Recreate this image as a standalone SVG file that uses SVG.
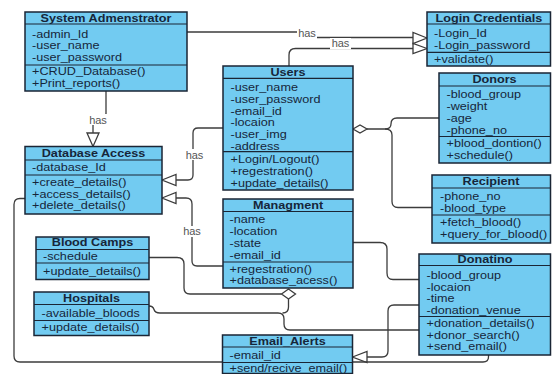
<svg xmlns="http://www.w3.org/2000/svg" width="553" height="374" viewBox="0 0 553 374">
<style>
.box{fill:#72CBF1;stroke:#1a2535;stroke-width:1.5}
.sep{stroke:#1a2535;stroke-width:1.2}
.t{font-family:"Liberation Sans",Arial,sans-serif;font-size:11px;fill:#16263a}
.h{font-weight:bold;text-anchor:middle}
.c{fill:none;stroke:#3c3c3c;stroke-width:1.3}
.tri{fill:#fff;stroke:#3c3c3c;stroke-width:1.3}
.lb{fill:#fff}
.lbl{font-family:"Liberation Sans",Arial,sans-serif;font-size:11px;fill:#555;text-anchor:middle}
</style>
<rect width="553" height="374" fill="#fff"/>
<g id="connectors">
<path class="c" d="M187,32 H299 L315,37.5 H413"/>
<rect class="lb" x="297" y="28" width="20" height="11"/>
<text class="lbl" x="307" y="36.5">has</text>
<polygon class="tri" points="427,38 413,32.5 413,43.5"/>
<path class="c" d="M289,66 V55 Q289,48.5 295.5,48.5 H413"/>
<rect class="lb" x="330" y="38" width="21" height="11.5"/>
<text class="lbl" x="340.5" y="47">has</text>
<polygon class="tri" points="427,48.5 413,43.5 413,53.5"/>
<path class="c" d="M106,91 V114 L93,125 V133"/>
<rect class="lb" x="88" y="114" width="20" height="11"/>
<text class="lbl" x="98" y="123.5">has</text>
<polygon class="tri" points="93,146.5 87,133 99,133"/>
<path class="c" d="M223,128 H198 Q193,128 193,133 V175 Q193,180 188,180 H176"/>
<rect class="lb" x="184" y="149" width="21" height="11"/>
<text class="lbl" x="194.5" y="158.5">has</text>
<polygon class="tri" points="162,180 176,174.5 176,185.5"/>
<path class="c" d="M223,266 H197 Q192,266 192,261 V204 Q192,198 186,198 H176"/>
<rect class="lb" x="182" y="226" width="21" height="11"/>
<text class="lbl" x="192" y="235">has</text>
<polygon class="tri" points="162,198 176,192.5 176,203.5"/>
<path class="c" d="M367,129 H385 Q391,129 391,124 Q391,118 397,118 H439"/>
<path class="c" d="M385,129 Q392,129 392,135 V201.5 Q392,207.5 398,207.5 H432"/>
<polygon class="tri" points="353,129 360,125 367,129 360,133"/>
<path class="c" d="M353,242.5 H380 Q387,242.5 387,249 V273 Q387,279.5 393,279.5 H419"/>
<path class="c" d="M149,257.5 H177 Q184,257.5 184,264 V288 Q184,294 190,294 H281.5"/>
<path class="c" d="M149,306 Q153,306 154,309.5 Q155,313 160,313 H278 Q284,313 284,319 V324 Q284,330 290,330 H419"/>
<path class="c" d="M288.5,299 V307 Q288.5,313 282.5,313"/>
<polygon class="tri" points="281.5,294 288.5,289 295.5,294 288.5,299"/>
<path class="c" d="M419,305 H394 Q388,305 388,311 V351 Q388,357 382,357 H367"/>
<polygon class="tri" points="352.5,357 367,351.5 367,362.5"/>
<path class="c" d="M25,198.5 H20 Q14,198.5 14,204.5 V356 Q14,362 20,362 H483 Q488.5,362 488.5,357 V355"/>
</g>
<g id="system-admenstrator">
<rect class="box" x="25" y="12" width="162" height="79"/>
<line class="sep" x1="25" y1="24" x2="187" y2="24"/>
<line class="sep" x1="25" y1="65" x2="187" y2="65"/>
<text class="t h" transform="matrix(1.15 0 0 1 106 0)" y="22">System Admenstrator</text>
<text class="t" transform="matrix(1.15 0 0 1 32 0)" y="38">-admin_Id</text>
<text class="t" transform="matrix(1.15 0 0 1 32 0)" y="49.3">-user_name</text>
<text class="t" transform="matrix(1.15 0 0 1 32 0)" y="60.6">-user_password</text>
<text class="t" transform="matrix(1.15 0 0 1 32 0)" y="75.3">+CRUD_Database()</text>
<text class="t" transform="matrix(1.15 0 0 1 32 0)" y="87">+Print_reports()</text>
</g>
<g id="login-credentials">
<rect class="box" x="427" y="12" width="123.5" height="54"/>
<line class="sep" x1="427" y1="24" x2="550.5" y2="24"/>
<line class="sep" x1="427" y1="52.3" x2="550.5" y2="52.3"/>
<text class="t h" transform="matrix(1.15 0 0 1 489 0)" y="22">Login Credentials</text>
<text class="t" transform="matrix(1.15 0 0 1 434 0)" y="37.5">-Login_Id</text>
<text class="t" transform="matrix(1.15 0 0 1 434 0)" y="49">-Login_password</text>
<text class="t" transform="matrix(1.15 0 0 1 434 0)" y="63">+validate()</text>
</g>
<g id="users">
<rect class="box" x="223" y="66" width="130" height="124"/>
<line class="sep" x1="223" y1="78.3" x2="353" y2="78.3"/>
<line class="sep" x1="223" y1="151.7" x2="353" y2="151.7"/>
<text class="t h" transform="matrix(1.15 0 0 1 288 0)" y="76">Users</text>
<text class="t" transform="matrix(1.15 0 0 1 230.5 0)" y="91.5">-user_name</text>
<text class="t" transform="matrix(1.15 0 0 1 230.5 0)" y="103">-user_password</text>
<text class="t" transform="matrix(1.15 0 0 1 230.5 0)" y="114.6">-email_id</text>
<text class="t" transform="matrix(1.15 0 0 1 230.5 0)" y="126.3">-locaion</text>
<text class="t" transform="matrix(1.15 0 0 1 230.5 0)" y="138">-user_img</text>
<text class="t" transform="matrix(1.15 0 0 1 230.5 0)" y="149.6">-address</text>
<text class="t" transform="matrix(1.15 0 0 1 230.5 0)" y="163.5">+Login/Logout()</text>
<text class="t" transform="matrix(1.15 0 0 1 230.5 0)" y="175.2">+regestration()</text>
<text class="t" transform="matrix(1.15 0 0 1 230.5 0)" y="186.8">+update_details()</text>
</g>
<g id="donors">
<rect class="box" x="439" y="73" width="111.5" height="90"/>
<line class="sep" x1="439" y1="86" x2="550.5" y2="86"/>
<line class="sep" x1="439" y1="136.5" x2="550.5" y2="136.5"/>
<text class="t h" transform="matrix(1.15 0 0 1 494.5 0)" y="83">Donors</text>
<text class="t" transform="matrix(1.15 0 0 1 446.5 0)" y="98.5">-blood_group</text>
<text class="t" transform="matrix(1.15 0 0 1 446.5 0)" y="110.2">-weight</text>
<text class="t" transform="matrix(1.15 0 0 1 446.5 0)" y="121.9">-age</text>
<text class="t" transform="matrix(1.15 0 0 1 446.5 0)" y="133.6">-phone_no</text>
<text class="t" transform="matrix(1.15 0 0 1 446.5 0)" y="147">+blood_dontion()</text>
<text class="t" transform="matrix(1.15 0 0 1 446.5 0)" y="158.6">+schedule()</text>
</g>
<g id="recipient">
<rect class="box" x="432" y="175" width="118.5" height="68"/>
<line class="sep" x1="432" y1="188" x2="550.5" y2="188"/>
<line class="sep" x1="432" y1="215" x2="550.5" y2="215"/>
<text class="t h" transform="matrix(1.15 0 0 1 491 0)" y="185.5">Recipient</text>
<text class="t" transform="matrix(1.15 0 0 1 440 0)" y="200.5">-phone_no</text>
<text class="t" transform="matrix(1.15 0 0 1 440 0)" y="212">-blood_type</text>
<text class="t" transform="matrix(1.15 0 0 1 440 0)" y="226">+fetch_blood()</text>
<text class="t" transform="matrix(1.15 0 0 1 440 0)" y="238">+query_for_blood()</text>
</g>
<g id="database-access">
<rect class="box" x="25" y="146.5" width="137" height="67.5"/>
<line class="sep" x1="25" y1="160" x2="162" y2="160"/>
<line class="sep" x1="25" y1="175" x2="162" y2="175"/>
<text class="t h" transform="matrix(1.15 0 0 1 93.5 0)" y="157">Database Access</text>
<text class="t" transform="matrix(1.15 0 0 1 32 0)" y="171.5">-database_Id</text>
<text class="t" transform="matrix(1.15 0 0 1 32 0)" y="186.5">+create_details()</text>
<text class="t" transform="matrix(1.15 0 0 1 32 0)" y="198">+access_details()</text>
<text class="t" transform="matrix(1.15 0 0 1 32 0)" y="209.5">+delete_details()</text>
</g>
<g id="managment">
<rect class="box" x="223" y="199" width="130" height="89"/>
<line class="sep" x1="223" y1="211.5" x2="353" y2="211.5"/>
<line class="sep" x1="223" y1="262" x2="353" y2="262"/>
<text class="t h" transform="matrix(1.15 0 0 1 288 0)" y="208.8">Managment</text>
<text class="t" transform="matrix(1.15 0 0 1 229.5 0)" y="223.5">-name</text>
<text class="t" transform="matrix(1.15 0 0 1 229.5 0)" y="235.2">-location</text>
<text class="t" transform="matrix(1.15 0 0 1 229.5 0)" y="246.9">-state</text>
<text class="t" transform="matrix(1.15 0 0 1 229.5 0)" y="258.6">-email_id</text>
<text class="t" transform="matrix(1.15 0 0 1 229.5 0)" y="273">+regestration()</text>
<text class="t" transform="matrix(1.15 0 0 1 229.5 0)" y="284.5">+database_acess()</text>
</g>
<g id="blood-camps">
<rect class="box" x="36" y="237" width="113" height="42.5"/>
<line class="sep" x1="36" y1="249.5" x2="149" y2="249.5"/>
<line class="sep" x1="36" y1="263" x2="149" y2="263"/>
<text class="t h" transform="matrix(1.15 0 0 1 92.5 0)" y="246.5">Blood Camps</text>
<text class="t" transform="matrix(1.15 0 0 1 43 0)" y="260">-schedule</text>
<text class="t" transform="matrix(1.15 0 0 1 43 0)" y="275.5">+update_details()</text>
</g>
<g id="hospitals">
<rect class="box" x="34" y="292" width="115" height="43.5"/>
<line class="sep" x1="34" y1="304.5" x2="149" y2="304.5"/>
<line class="sep" x1="34" y1="320.5" x2="149" y2="320.5"/>
<text class="t h" transform="matrix(1.15 0 0 1 91.5 0)" y="302">Hospitals</text>
<text class="t" transform="matrix(1.15 0 0 1 41.5 0)" y="317.5">-available_bloods</text>
<text class="t" transform="matrix(1.15 0 0 1 41.5 0)" y="331.5">+update_details()</text>
</g>
<g id="donatino">
<rect class="box" x="419" y="254" width="131.5" height="101"/>
<line class="sep" x1="419" y1="265.5" x2="550.5" y2="265.5"/>
<line class="sep" x1="419" y1="316.5" x2="550.5" y2="316.5"/>
<text class="t h" transform="matrix(1.15 0 0 1 485 0)" y="263">Donatino</text>
<text class="t" transform="matrix(1.15 0 0 1 426.5 0)" y="279">-blood_group</text>
<text class="t" transform="matrix(1.15 0 0 1 426.5 0)" y="290.7">-locaion</text>
<text class="t" transform="matrix(1.15 0 0 1 426.5 0)" y="302.4">-time</text>
<text class="t" transform="matrix(1.15 0 0 1 426.5 0)" y="314">-donation_venue</text>
<text class="t" transform="matrix(1.15 0 0 1 426.5 0)" y="327">+donation_details()</text>
<text class="t" transform="matrix(1.15 0 0 1 426.5 0)" y="338.6">+donor_search()</text>
<text class="t" transform="matrix(1.15 0 0 1 426.5 0)" y="350.2">+send_email()</text>
</g>
<g id="email-alerts">
<rect class="box" x="222.5" y="335" width="130" height="38.5"/>
<line class="sep" x1="222.5" y1="347" x2="352.5" y2="347"/>
<line class="sep" x1="222.5" y1="362.5" x2="352.5" y2="362.5"/>
<text class="t h" transform="matrix(1.15 0 0 1 287.5 0)" y="345">Email_Alerts</text>
<text class="t" transform="matrix(1.15 0 0 1 229.5 0)" y="359.5">-email_id</text>
<text class="t" transform="matrix(1.15 0 0 1 229.5 0)" y="372">+send/recive_email()</text>
</g>
</svg>
